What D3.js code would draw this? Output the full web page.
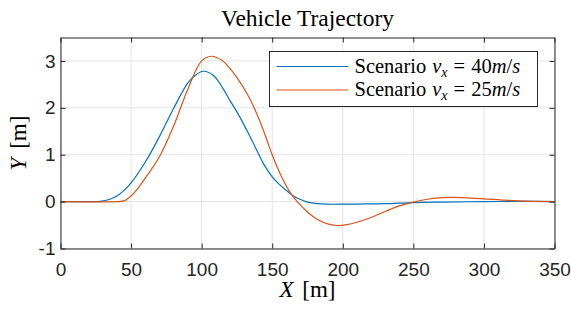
<!DOCTYPE html>
<html>
<head>
<meta charset="utf-8">
<script src="https://cdn.jsdelivr.net/npm/d3@7"></script>
<style>
  body { margin: 0; background: #fff; }
  .tick text { font-family: "Liberation Sans", Arial, sans-serif; font-size: 19px; fill: #262626; }
  .serif { font-family: "Liberation Serif", "Times New Roman", serif; fill: #000; }
</style>
</head>
<body>
<div id="chart"></div>
<script>
//////////////////////////////////////////////
// data //////////////////////////////////////
//////////////////////////////////////////////
// values (X [m], Y [m])

var x40 = [0, 20, 28, 35, 40, 45, 50, 60, 70, 80, 90, 95, 101, 108, 115, 120, 126, 132, 138, 144, 150, 156, 162, 165, 168, 175, 185, 200, 215, 230, 250, 270, 300, 330, 350];
var y40 = [0, 0, 0.005, 0.05, 0.12, 0.24, 0.40, 0.84, 1.38, 1.98, 2.52, 2.68, 2.78, 2.70, 2.42, 2.16, 1.86, 1.52, 1.16, 0.80, 0.53, 0.34, 0.19, 0.12, 0.07, -0.01, -0.05, -0.055, -0.05, -0.045, -0.02, -0.01, 0.0, 0.005, 0];

var x25 = [0, 40, 45, 47, 50, 55, 60, 70, 80, 90, 100, 107, 114, 120, 126, 132, 138, 144, 150, 156, 162, 165, 168, 175, 182, 190, 196, 203, 210, 220, 230, 240, 250, 260, 268, 276, 285, 300, 315, 330, 350];
var y25 = [0, 0, 0.015, 0.05, 0.12, 0.29, 0.5, 0.95, 1.6, 2.38, 3.0, 3.1, 3.02, 2.84, 2.6, 2.31, 1.95, 1.50, 1.0, 0.57, 0.23, 0.1, -0.01, -0.22, -0.38, -0.48, -0.51, -0.49, -0.44, -0.34, -0.21, -0.09, -0.01, 0.05, 0.08, 0.09, 0.085, 0.06, 0.03, 0.01, 0];

var xTicks = [0, 50, 100, 150, 200, 250, 300, 350];
var yTicks = [-1, 0, 1, 2, 3];
var speeds = ["40", "25"];
var colors = ["#0072BD", "#D95319"];

var series = [
  { name: speeds[0], color: colors[0], data: x40.map(function(d, i) { return { x: d, y: y40[i] }; }) },
  { name: speeds[1], color: colors[1], data: x25.map(function(d, i) { return { x: d, y: y25[i] }; }) }
];

//////////////////////////////////////////////
// Chart Config //////////////////////////////
//////////////////////////////////////////////
var W = 571, H = 309;
var margin = {top: 37.5, right: 16.5, bottom: 60.5, left: 60.5};
var width = W - margin.left - margin.right,
    height = H - margin.top - margin.bottom;

var xScale = d3.scaleLinear().domain([0, 350]).range([0, width]);
var yScale = d3.scaleLinear().domain([-1, 3.5]).range([height, 0]);

var svg = d3.select("#chart").append("svg")
    .attr("width", W)
    .attr("height", H);

var g = svg.append("g")
    .attr("transform", "translate(" + margin.left + "," + margin.top + ")");

// grid
g.append("g").selectAll("line").data(xTicks).enter().append("line")
    .attr("x1", function(d) { return xScale(d); }).attr("x2", function(d) { return xScale(d); })
    .attr("y1", 0).attr("y2", height)
    .style("stroke", "#e3e3e3").style("stroke-width", 1);
g.append("g").selectAll("line").data(yTicks).enter().append("line")
    .attr("y1", function(d) { return yScale(d); }).attr("y2", function(d) { return yScale(d); })
    .attr("x1", 0).attr("x2", width)
    .style("stroke", "#e3e3e3").style("stroke-width", 1);

// lines
var line = d3.line()
    .curve(d3.curveCatmullRom.alpha(0.5))
    .x(function(d) { return xScale(d.x); })
    .y(function(d) { return yScale(d.y); });

g.selectAll(".trace").data(series).enter().append("path")
    .attr("class", "trace")
    .attr("d", function(d) { return line(d.data); })
    .style("fill", "none")
    .style("stroke", function(d) { return d.color; })
    .style("stroke-width", "1.2px");

// axes (ticks inward, box on all four sides)
var xAxis = d3.axisBottom(xScale).tickValues(xTicks).tickSizeInner(-5).tickSizeOuter(0).tickPadding(14);
var yAxis = d3.axisLeft(yScale).tickValues(yTicks).tickSizeInner(-5).tickSizeOuter(0).tickPadding(5)
    .tickFormat(function(d) { return d < 0 ? "-" + Math.abs(d) : d; });
var xTop = d3.axisTop(xScale).tickValues(xTicks).tickSizeInner(-5).tickSizeOuter(0).tickFormat("");
var yRight = d3.axisRight(yScale).tickValues(yTicks).tickSizeInner(-5).tickSizeOuter(0).tickFormat("");

g.append("g").attr("class", "x axis").attr("transform", "translate(0," + height + ")").call(xAxis);
g.append("g").attr("class", "y axis").call(yAxis);
g.append("g").attr("class", "x2 axis").call(xTop);
g.append("g").attr("class", "y2 axis").attr("transform", "translate(" + width + ",0)").call(yRight);

g.selectAll(".axis path").style("stroke", "#262626").style("stroke-width", 1);
g.selectAll(".axis line").style("stroke", "#262626").style("stroke-width", 1);

// title and axis labels
svg.append("text").attr("class", "serif")
    .attr("x", margin.left + width / 2).attr("y", 26)
    .attr("text-anchor", "middle")
    .style("font-size", "23.5px")
    .text("Vehicle Trajectory");

var xl = svg.append("text").attr("class", "serif")
    .attr("x", margin.left + width / 2).attr("y", 297)
    .attr("text-anchor", "middle")
    .style("font-size", "23px");
xl.append("tspan").style("font-style", "italic").text("X");
xl.append("tspan").attr("dx", 3).text(" [m]");

var yl = svg.append("text").attr("class", "serif")
    .attr("transform", "translate(26," + (margin.top + height / 2) + ") rotate(-90)")
    .attr("text-anchor", "middle")
    .style("font-size", "23px");
yl.append("tspan").style("font-style", "italic").text("Y");
yl.append("tspan").attr("dx", 3).text(" [m]");

// legend
var legend = svg.append("g").attr("transform", "translate(269.5,51.5)");
legend.append("rect")
    .attr("width", 268).attr("height", 55)
    .style("fill", "#fff").style("stroke", "#262626").style("stroke-width", 1);

var items = legend.selectAll(".item").data(series).enter().append("g")
    .attr("transform", function(d, i) { return "translate(0," + (15 + i * 23.5) + ")"; });
items.append("line")
    .attr("x1", 7).attr("x2", 79)
    .style("stroke", function(d) { return d.color; }).style("stroke-width", 1.2);
var lt = items.append("text").attr("class", "serif")
    .attr("x", 85).attr("y", 6)
    .style("font-size", "20.5px");
lt.append("tspan").text("Scenario");
lt.append("tspan").attr("dx", 6).style("font-style", "italic").text("v");
lt.append("tspan").style("font-style", "italic").style("font-size", "14px").attr("dy", 4).text("x");
lt.append("tspan").attr("dy", -4).attr("dx", 6).text("=");
lt.append("tspan").attr("dx", 6).text(function(d) { return d.name; });
lt.append("tspan").style("font-style", "italic").text("m");
lt.append("tspan").text("/");
lt.append("tspan").style("font-style", "italic").text("s");
</script>
</body>
</html>
